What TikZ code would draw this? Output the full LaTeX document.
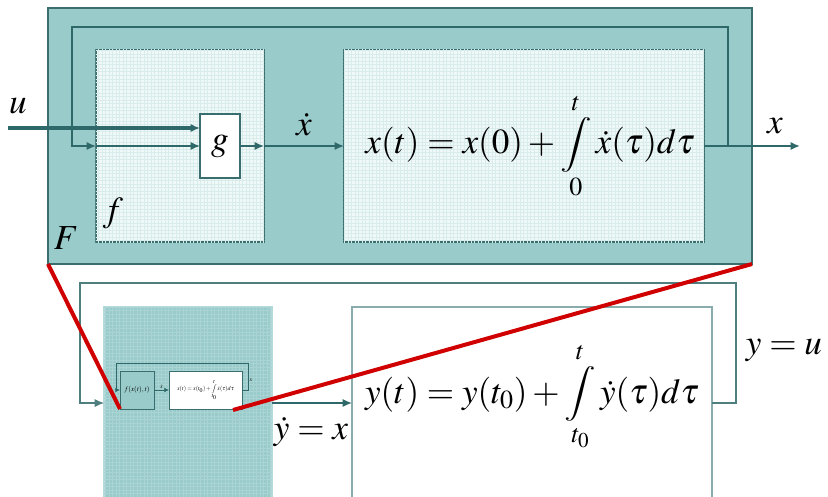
\documentclass[tikz,border=0pt]{standalone}
\usepackage{amsmath}
\usepackage{mathptmx}
\usetikzlibrary{arrows.meta,patterns}

\definecolor{boxteal}{HTML}{9ACBCB}
\definecolor{edgeteal}{HTML}{3A6E6E}
\definecolor{sigteal}{HTML}{2F6868}
\definecolor{paleteal}{HTML}{F0F8F8}
\definecolor{gridteal}{HTML}{D8ECEC}
\definecolor{gridlight}{HTML}{B4DADA}
\definecolor{griddark}{HTML}{AAD4D4}
\definecolor{boxgray}{HTML}{8AACAC}
\definecolor{loopteal}{HTML}{4E7E7E}
\definecolor{zoomred}{HTML}{D00000}

% integral sign of reduced height
\newcommand{\shortint}{\mathop{\vcenter{\hbox{\scalebox{1}[0.78]{$\displaystyle\int$}}}}\limits}

\begin{document}
\begin{tikzpicture}[x=0.03cm, y=-0.03cm,
  blk/.style={draw=edgeteal, line width=1pt, inner sep=0pt, outer sep=0pt},
  sig/.style={draw=sigteal, line width=1.2pt, -{Latex[length=8pt,width=7pt]}},
  minisig/.style={draw=sigteal, line width=0.6pt, -{Latex[length=4pt,width=4pt]}},
  lbl/.style={font=\fontsize{30}{36}\selectfont, inner sep=0pt},
  minilbl/.style={font=\fontsize{5}{6}\selectfont, inner sep=0pt},
  zoomline/.style={draw=zoomred, line width=3.4pt},
  textured/.style={postaction={pattern=grid, pattern color=#1}}]
  \useasboundingbox (0,0) rectangle (828,497);
  \clip (0,0) rectangle (828,497);

  % Block F
  \node[blk, fill=boxteal, minimum width=21.12cm, minimum height=7.68cm] (F) at (400,136) {};
  \node[lbl] (Flbl) at (66,238) {$F$};

  % Block f with g
  \node[blk, fill=paleteal, textured=gridteal, minimum width=5.04cm, minimum height=5.76cm] (f) at (180,146) {};
  \node[blk, fill=white, minimum width=1.2cm, minimum height=1.92cm, font=\fontsize{30}{36}\selectfont] (g) at (220,146) {$g$};
  \node[lbl] (flbl) at (113,213) {$f$};

  % Integrator
  \node[blk, fill=paleteal, textured=gridteal, minimum width=10.8cm, minimum height=5.76cm] (int) at (524,146) {};
  \node[lbl] (xeq) at (530,146) {$x(t)=x(0)+\shortint_0^t\dot{x}(\tau)d\tau$};

  % Signals in F
  \coordinate (uin) at (8,128);
  \node[lbl] (ulbl) at (18,106) {$u$};
  \draw[sig, line width=3.5pt] (uin) -- (uin -| g.west);
  \draw[sig] (int.east) -- (728,146) |- (72,27) |- (f.west);
  \draw[sig] (f.west) -- (g.west);
  \draw[sig] (g.east) -- (f.east);
  \draw[sig] (f.east) -- (int.west) node[lbl, midway, above=8pt] (xdot) {$\dot{x}$};
  \coordinate (xout) at (800,146);
  \draw[sig, line width=2.5pt] (int.east) -- (xout);
  \node[lbl] (xlbl) at (775,126) {$x$};

  % Lower level
  \coordinate (ylev) at (0,403);
  \node[blk, draw=gridlight, fill=boxteal, textured=griddark, minimum width=5.04cm, minimum height=6.09cm] (Y) at (188,408.5) {};
  \node[blk, draw=boxgray, fill=white, minimum width=10.8cm, minimum height=6.09cm] (Yint) at (532,408.5) {};
  \node[lbl] (yeq) at (532,397) {$y(t)=y(t_0)+\shortint_{t_0}^t\dot{y}(\tau)d\tau$};
  \draw[sig, draw=loopteal, line width=1pt] (Yint.east |- ylev) -- (736,403) |- (80,283) |- (Y.west |- ylev);
  \draw[sig] (Y.east |- ylev) -- (Yint.west |- ylev);
  \node[lbl] (ydot) at (311,432) {$\dot{y}=x$};
  \node[lbl] (yu) at (784,350) {$y=u$};

  % Small copy of F
  \node[blk, line width=0.6pt, fill=boxteal, minimum width=1.02cm, minimum height=1.14cm, font=\fontsize{6}{7}\selectfont] (mf) at (137,390) {$f(x(t),t)$};
  \node[blk, line width=0.6pt, fill=white, minimum width=2.19cm, minimum height=1.14cm, minilbl] (me) at (205.5,390) {$x(t)=x(t_0)+\shortint_{t_0}^t\dot{x}(\tau)d\tau$};
  \draw[minisig] (mf.east) -- (me.west) node[minilbl, midway, above=1pt] {$\dot{x}$};
  \draw[minisig] (me.east) -- ++(6,0) |- (116,363) |- (mf.west);
  \node[minilbl] (mx) at (251,380) {$x$};

  % Zoom lines
  \coordinate (mzoom) at (233,410);
  \draw[zoomline] (F.south west) -- (mf.south west);
  \draw[zoomline] (F.south east) -- (mzoom);
\end{tikzpicture}
\end{document}
